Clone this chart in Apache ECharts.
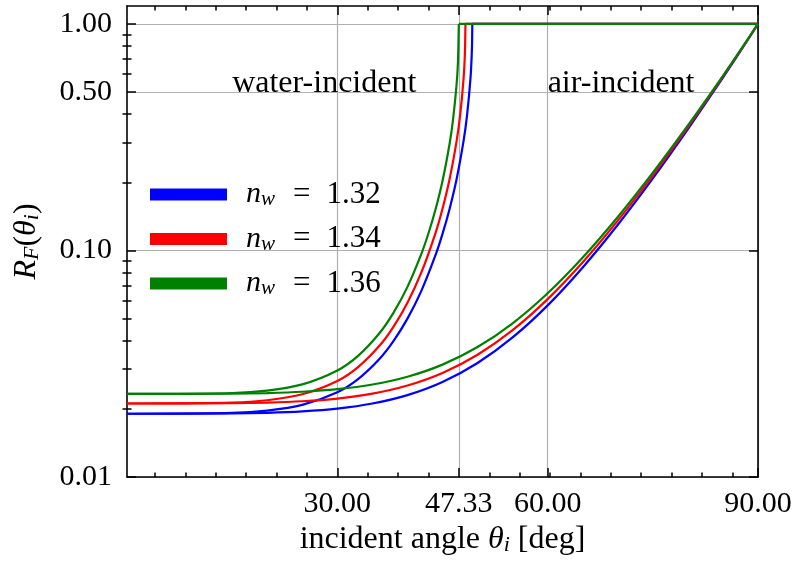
<!DOCTYPE html>
<html><head><meta charset="utf-8">
<script src="https://cdn.jsdelivr.net/npm/echarts@6/dist/echarts.min.js"></script>
<style>html,body{margin:0;padding:0;background:#fff}#c{width:797px;height:562px}</style>
</head><body><div id="c"></div>
<script>
// ---------- data ----------
const seriesNames = ['n_w = 1.32', 'n_w = 1.34', 'n_w = 1.36'];
const seriesColors = ['#0000ff', '#ff0000', '#008000'];

// air-incident curves
const airAngles = [0, 15, 20, 25, 30, 35, 40, 45, 50, 55, 60, 65, 70, 75, 80, 85, 88, 90];
const airR132 = [0.01902, 0.01908, 0.01920, 0.01948, 0.02004, 0.02110, 0.02299, 0.02627, 0.03186, 0.04131, 0.05723, 0.08415, 0.12989, 0.20818, 0.34348, 0.57997, 0.80217, 1.0];
const airR134 = [0.02111, 0.02117, 0.02130, 0.02160, 0.02220, 0.02332, 0.02533, 0.02878, 0.03465, 0.04450, 0.06100, 0.08870, 0.13536, 0.21455, 0.35020, 0.58532, 0.80498, 1.0];
const airR136 = [0.02327, 0.02334, 0.02347, 0.02378, 0.02442, 0.02561, 0.02771, 0.03134, 0.03746, 0.04769, 0.06472, 0.09310, 0.14057, 0.22050, 0.35635, 0.59011, 0.80750, 1.0];

// water-incident curves (up to the critical angle)
const waterAngles132 = [0, 15, 20, 25, 30, 33, 36, 38, 40, 42, 44, 45, 46, 47, 48, 48.5, 49, 49.2, 49.25];
const waterR132 = [0.01902, 0.01920, 0.01965, 0.02082, 0.02368, 0.02714, 0.03320, 0.03980, 0.05001, 0.06652, 0.09529, 0.11835, 0.15219, 0.20576, 0.30374, 0.39490, 0.58094, 0.78197, 1.0];
const waterAngles134 = [0, 15, 20, 25, 30, 33, 36, 38, 40, 42, 44, 45, 46, 47, 47.5, 48, 48.2, 48.27];
const waterR134 = [0.02111, 0.02131, 0.02182, 0.02318, 0.02653, 0.03063, 0.03793, 0.04602, 0.05881, 0.08018, 0.11939, 0.15288, 0.20580, 0.30225, 0.39141, 0.57043, 0.75169, 1.0];
const waterAngles136 = [0, 15, 20, 25, 30, 33, 36, 38, 40, 42, 43, 44, 45, 46, 46.5, 47, 47.2, 47.33];
const waterR136 = [0.02327, 0.02349, 0.02408, 0.02564, 0.02954, 0.03436, 0.04311, 0.05303, 0.06905, 0.09689, 0.11911, 0.15155, 0.20258, 0.29436, 0.37715, 0.53611, 0.67235, 1.0];

// total internal reflection plateau (R = 1 from the critical angle to 90 deg)
const critAngles = [49.25, 48.27, 47.33];
const plateauEnd = 90;
const plateauValue = 1.0;

// ticks
const xMajorTicks = [30, 47.33, 60, 90];
const xMinorTicks = [4.00, 8.33, 12.67, 17.00, 21.33, 25.67, 34.33, 38.67, 43.00, 51.67, 56.00, 60.33, 64.66, 69.00, 73.33, 77.66, 81.99, 86.33];
const yMajorTicks = [0.01, 0.1, 0.5, 1.0];
const yMinorTicks = [0.02, 0.03, 0.04, 0.05, 0.06, 0.07, 0.08, 0.09, 0.2, 0.3, 0.4, 0.6, 0.7, 0.8, 0.9];

// text annotations
const annotations = [
  { text: 'water-incident', x: 15, y: 0.545 },
  { text: 'air-incident', x: 60, y: 0.545 }
];

// ---------- chart ----------
const FONT = 'Liberation Serif';
const pairs = (xs, ys) => xs.map((x, i) => [x, ys[i]]);
const airData = [pairs(airAngles, airR132), pairs(airAngles, airR134), pairs(airAngles, airR136)];
const waterData = [pairs(waterAngles132, waterR132), pairs(waterAngles134, waterR134), pairs(waterAngles136, waterR136)];

const tickLine = { color: '#000', width: 1.5 };
const frameLine = { show: true, onZero: false, lineStyle: { color: '#000', width: 1.6 } };
const rich = {
  rm: { fontFamily: FONT, fontSize: 32, color: '#000', lineHeight: 34 },
  it: { fontFamily: FONT, fontSize: 32, fontStyle: 'italic', color: '#000', lineHeight: 34 },
  sub: { fontFamily: FONT, fontSize: 22, fontStyle: 'italic', color: '#000', lineHeight: 24, padding: [10, 0, 0, 0] }
};

function xAx(pos, ticks, len, withLabel, withLine) {
  const a = {
    type: 'value', min: 0, max: 90, position: pos, gridIndex: 0,
    axisLine: withLine ? frameLine : { show: false },
    axisTick: { show: true, inside: true, length: len, customValues: ticks, lineStyle: tickLine },
    axisLabel: { show: false },
    splitLine: { show: false },
    minorTick: { show: false }
  };
  if (withLabel) {
    a.axisLabel = { show: true, customValues: ticks, formatter: v => Number(v).toFixed(2),
      fontFamily: FONT, fontSize: 30, color: '#000', margin: 12 };
    a.splitLine = { show: true, lineStyle: { color: '#b0b0b0', width: 1.2 } };
    a.name = '{rm|incident angle }{it|θ}{sub|i}{rm| [deg]}';
    a.nameLocation = 'middle';
    a.nameGap = 46;
    a.nameTextStyle = { rich: rich };
  }
  return a;
}
function yAx(pos, ticks, len, withLabel, withLine) {
  const a = {
    type: 'log', logBase: 10, min: 0.01, max: 1.2, position: pos, gridIndex: 0,
    axisLine: withLine ? frameLine : { show: false },
    axisTick: { show: true, inside: true, length: len, customValues: ticks, lineStyle: tickLine },
    axisLabel: { show: false },
    splitLine: { show: false },
    minorTick: { show: false }
  };
  if (withLabel) {
    a.axisLabel = { show: true, customValues: ticks, formatter: v => Number(v).toFixed(2),
      fontFamily: FONT, fontSize: 30, color: '#000', margin: 15 };
    a.splitLine = { show: true, lineStyle: { color: '#b0b0b0', width: 1.2 } };
    a.name = '{it|R}{sub|F}{rm|(}{it|θ}{sub|i}{rm|)}';
    a.nameLocation = 'middle';
    a.nameRotate = 90;
    a.nameGap = 83;
    a.nameTextStyle = { rich: rich };
  }
  return a;
}

const series = [];
for (let k = 0; k < 3; k++) {
  const base = {
    type: 'line', name: seriesNames[k], xAxisIndex: 0, yAxisIndex: 0,
    showSymbol: false, symbol: 'none', animation: false, silent: true,
    color: seriesColors[k], itemStyle: { color: seriesColors[k] },
    lineStyle: { color: seriesColors[k], width: 2.2 }, z: 10 + k
  };
  series.push(Object.assign({}, base, { data: waterData[k], smooth: 0.25 }));
  series.push(Object.assign({}, base, { data: [[critAngles[k], plateauValue], [plateauEnd, plateauValue]] }));
  const air = Object.assign({}, base, { data: airData[k], smooth: 0.25 });
  if (k === 0) {
    air.markPoint = {
      symbol: 'circle', symbolSize: 0, silent: true, animation: false,
      label: { show: true, position: 'right', distance: 0, formatter: p => p.name,
        fontFamily: FONT, fontSize: 32, color: '#000' },
      data: annotations.map(a => ({ name: a.text, coord: [a.x, a.y] }))
    };
  }
  series.push(air);
}

const chart = echarts.init(document.getElementById('c'), null, { renderer: 'canvas' });
chart.setOption({
  backgroundColor: '#fff',
  animation: false,
  grid: { left: 127, right: 39, top: 6, bottom: 85, containLabel: false },
  xAxis: [
    xAx('bottom', xMajorTicks, 9, true, true),
    xAx('bottom', xMinorTicks, 4.5, false, false),
    xAx('top', xMajorTicks, 9, false, true),
    xAx('top', xMinorTicks, 4.5, false, false)
  ],
  yAxis: [
    yAx('left', yMajorTicks, 9, true, true),
    yAx('left', yMinorTicks, 4.5, false, false),
    yAx('right', yMajorTicks, 9, false, true),
    yAx('right', yMinorTicks, 4.5, false, false)
  ],
  legend: {
    orient: 'vertical', left: 150, top: 179, padding: 0, itemWidth: 77, itemHeight: 12, itemGap: 13.5,
    icon: 'rect', data: seriesNames, selectedMode: false,
    formatter: name => '{it|n}{sub|w}{eq|=}{rm|' + name.split('= ')[1] + '}',
    textStyle: { rich: {
      rm: { fontFamily: FONT, fontSize: 31, color: '#000', lineHeight: 33 },
      eq: { fontFamily: FONT, fontSize: 31, color: '#000', lineHeight: 33, padding: [0, 16, 0, 18] },
      it: { fontFamily: FONT, fontSize: 30, fontStyle: 'italic', color: '#000', lineHeight: 33, padding: [0, 0, 0, 14] },
      sub: { fontFamily: FONT, fontSize: 21, fontStyle: 'italic', color: '#000', lineHeight: 23, padding: [10, 0, 0, 0] }
    } }
  },
  series: series
});
</script></body></html>
